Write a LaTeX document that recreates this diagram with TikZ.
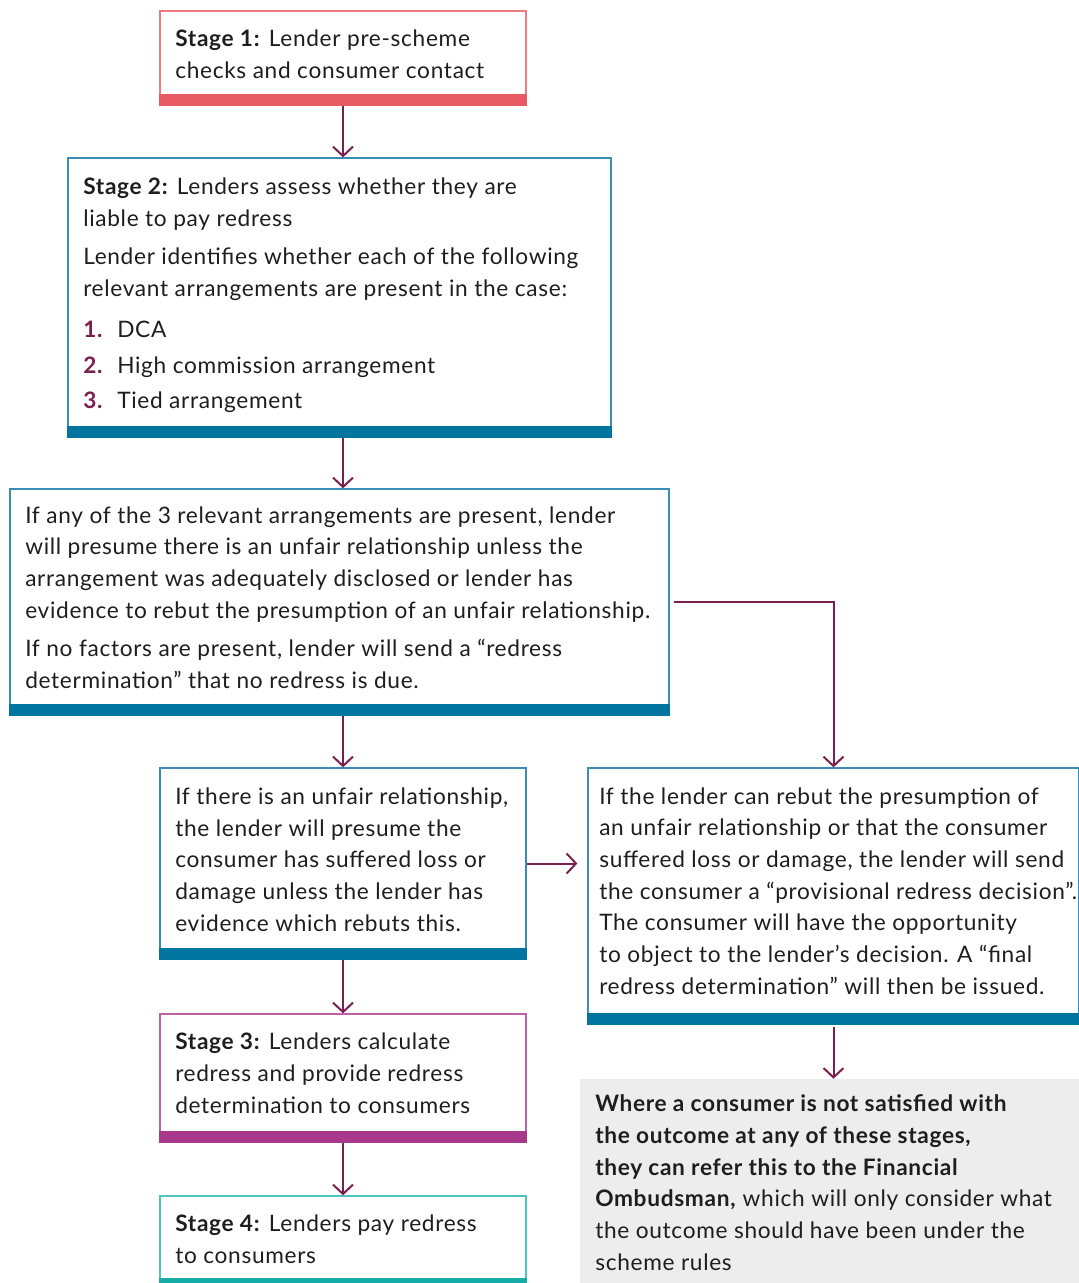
\documentclass[tikz,border=0pt]{standalone}
\usepackage{fontspec}
\setmainfont{Lato}[LetterSpace=3]
\usetikzlibrary{arrows.meta,fit}
\definecolor{ink}{HTML}{1E1E1E}
\definecolor{arrowc}{HTML}{7A1F4F}
\definecolor{redline}{HTML}{F07A80}
\definecolor{redbar}{HTML}{E85A61}
\definecolor{blueline}{HTML}{3A8DB5}
\definecolor{bluebar}{HTML}{0274A0}
\definecolor{magline}{HTML}{C060A8}
\definecolor{magbar}{HTML}{A8388A}
\definecolor{tealline}{HTML}{4EC4C0}
\definecolor{tealbar}{HTML}{16ADA9}
\definecolor{greyfill}{HTML}{EDEDED}
\definecolor{numc}{HTML}{7A1F4F}
\begin{document}
\begin{tikzpicture}[x=0.75pt,y=-0.75pt,
  font=\fontsize{17pt}{23.75pt}\selectfont,
  box/.style={draw=#1, line width=1pt, inner sep=0pt},
  txt/.style={anchor=base west, align=left, inner sep=0pt, text=ink},
  num/.style={anchor=base west, inner sep=0pt, text=numc, font=\fontsize{17pt}{23.75pt}\selectfont\bfseries},
  arr/.style={draw=arrowc, line width=1.5pt, -{Straight Barb[length=7pt,width=15pt]}}]
\useasboundingbox (0,0) rectangle (1079,1283);

% boxes
\node[box=redline, fit={(160,11)(526,105)}] (b1) {};
\fill[redbar] (b1.south west) rectangle ([yshift=9pt]b1.south east);
\node[box=blueline, fit={(68,158)(611,437)}] (b2) {};
\fill[bluebar] (b2.south west) rectangle ([yshift=9pt]b2.south east);
\node[box=blueline, fit={(10,489)(669,715)}] (b3) {};
\fill[bluebar] (b3.south west) rectangle ([yshift=9pt]b3.south east);
\node[box=blueline, fit={(160,768)(526,959)}] (b4) {};
\fill[bluebar] (b4.south west) rectangle ([yshift=9pt]b4.south east);
\node[box=blueline, fit={(588,768)(1079,1024)}] (b5) {};
\fill[bluebar] (b5.south west) rectangle ([yshift=9pt]b5.south east);
\node[box=magline, fit={(160,1014)(526,1142)}] (b6) {};
\fill[magbar] (b6.south west) rectangle ([yshift=9pt]b6.south east);
\node[box=tealline, fit={(160,1196)(526,1285)}] (b7) {};
\fill[tealbar] ([yshift=1pt]b7.south west) rectangle ([yshift=6pt]b7.south east);
\node[fill=greyfill, inner sep=0pt, fit={(580,1079)(1079,1283)}] (g) {};

% texts (anchor = baseline of the last line)
\node[txt] (t1) at (175,78) {\textbf{Stage 1:} Lender pre-scheme\\checks and consumer contact};
\node[txt] (t2a) at (83,226) {\textbf{Stage 2:} Lenders assess whether they are\\liable to pay redress};
\node[txt] (t2b) at (83,296) {Lender identifies whether each of the following\\relevant arrangements are present in the case:};
\node[num] (n1) at (83,337) {1.};
\node[txt] (l1) at (117,337) {DCA};
\node[num] (n2) at (83,373) {2.};
\node[txt] (l2) at (117,373) {High commission arrangement};
\node[num] (n3) at (83,408) {3.};
\node[txt] (l3) at (117,408) {Tied arrangement};
\node[txt] (t3a) at (25,618) {If any of the 3 relevant arrangements are present, lender\\will presume there is an unfair relationship unless the\\arrangement was adequately disclosed or lender has\\evidence to rebut the presumption of an unfair relationship.};
\node[txt] (t3b) at (25,688) {If no factors are present, lender will send a “redress\\determination” that no redress is due.};
\node[txt] (t4) at (175,931) {If there is an unfair relationship,\\the lender will presume the\\consumer has suffered loss or\\damage unless the lender has\\evidence which rebuts this.};
\node[txt] (t5) at (599,994) {If the lender can rebut the presumption of\\an unfair relationship or that the consumer\\suffered loss or damage, the lender will send\\the consumer a “provisional redress decision”.\\The consumer will have the opportunity\\to object to the lender's decision. A “final\\redress determination” will then be issued.};
\node[txt] (t6) at (175,1113) {\textbf{Stage 3:} Lenders calculate\\redress and provide redress\\determination to consumers};
\node[txt] (t7) at (175,1263) {\textbf{Stage 4:} Lenders pay redress\\to consumers};
\node[txt] (tg) at (595,1270) {\textbf{Where a consumer is not satisfied with}\\\textbf{the outcome at any of these stages,}\\\textbf{they can refer this to the Financial}\\\textbf{Ombudsman,} which will only consider what\\the outcome should have been under the\\scheme rules};

% connectors
\draw[arr] (b1.south) -- (b1.south |- b2.north);
\draw[arr] (b2.south -| b1.south) -- (b1.south |- b3.north);
\draw[arr] (b3.south -| b1.south) -- (b4.north);
\draw[arr] ([xshift=3pt]b3.east) -| (b5.north);
\draw[arr, shorten >=7.5pt] (b4.east) -- (b4.east -| b5.west);
\draw[arr] (b4.south) -- (b6.north);
\draw[arr] (b6.south) -- (b7.north);
\draw[arr] ([yshift=-1.5pt]b5.south) -- (b5.south |- g.north);
\end{tikzpicture}
\end{document}
